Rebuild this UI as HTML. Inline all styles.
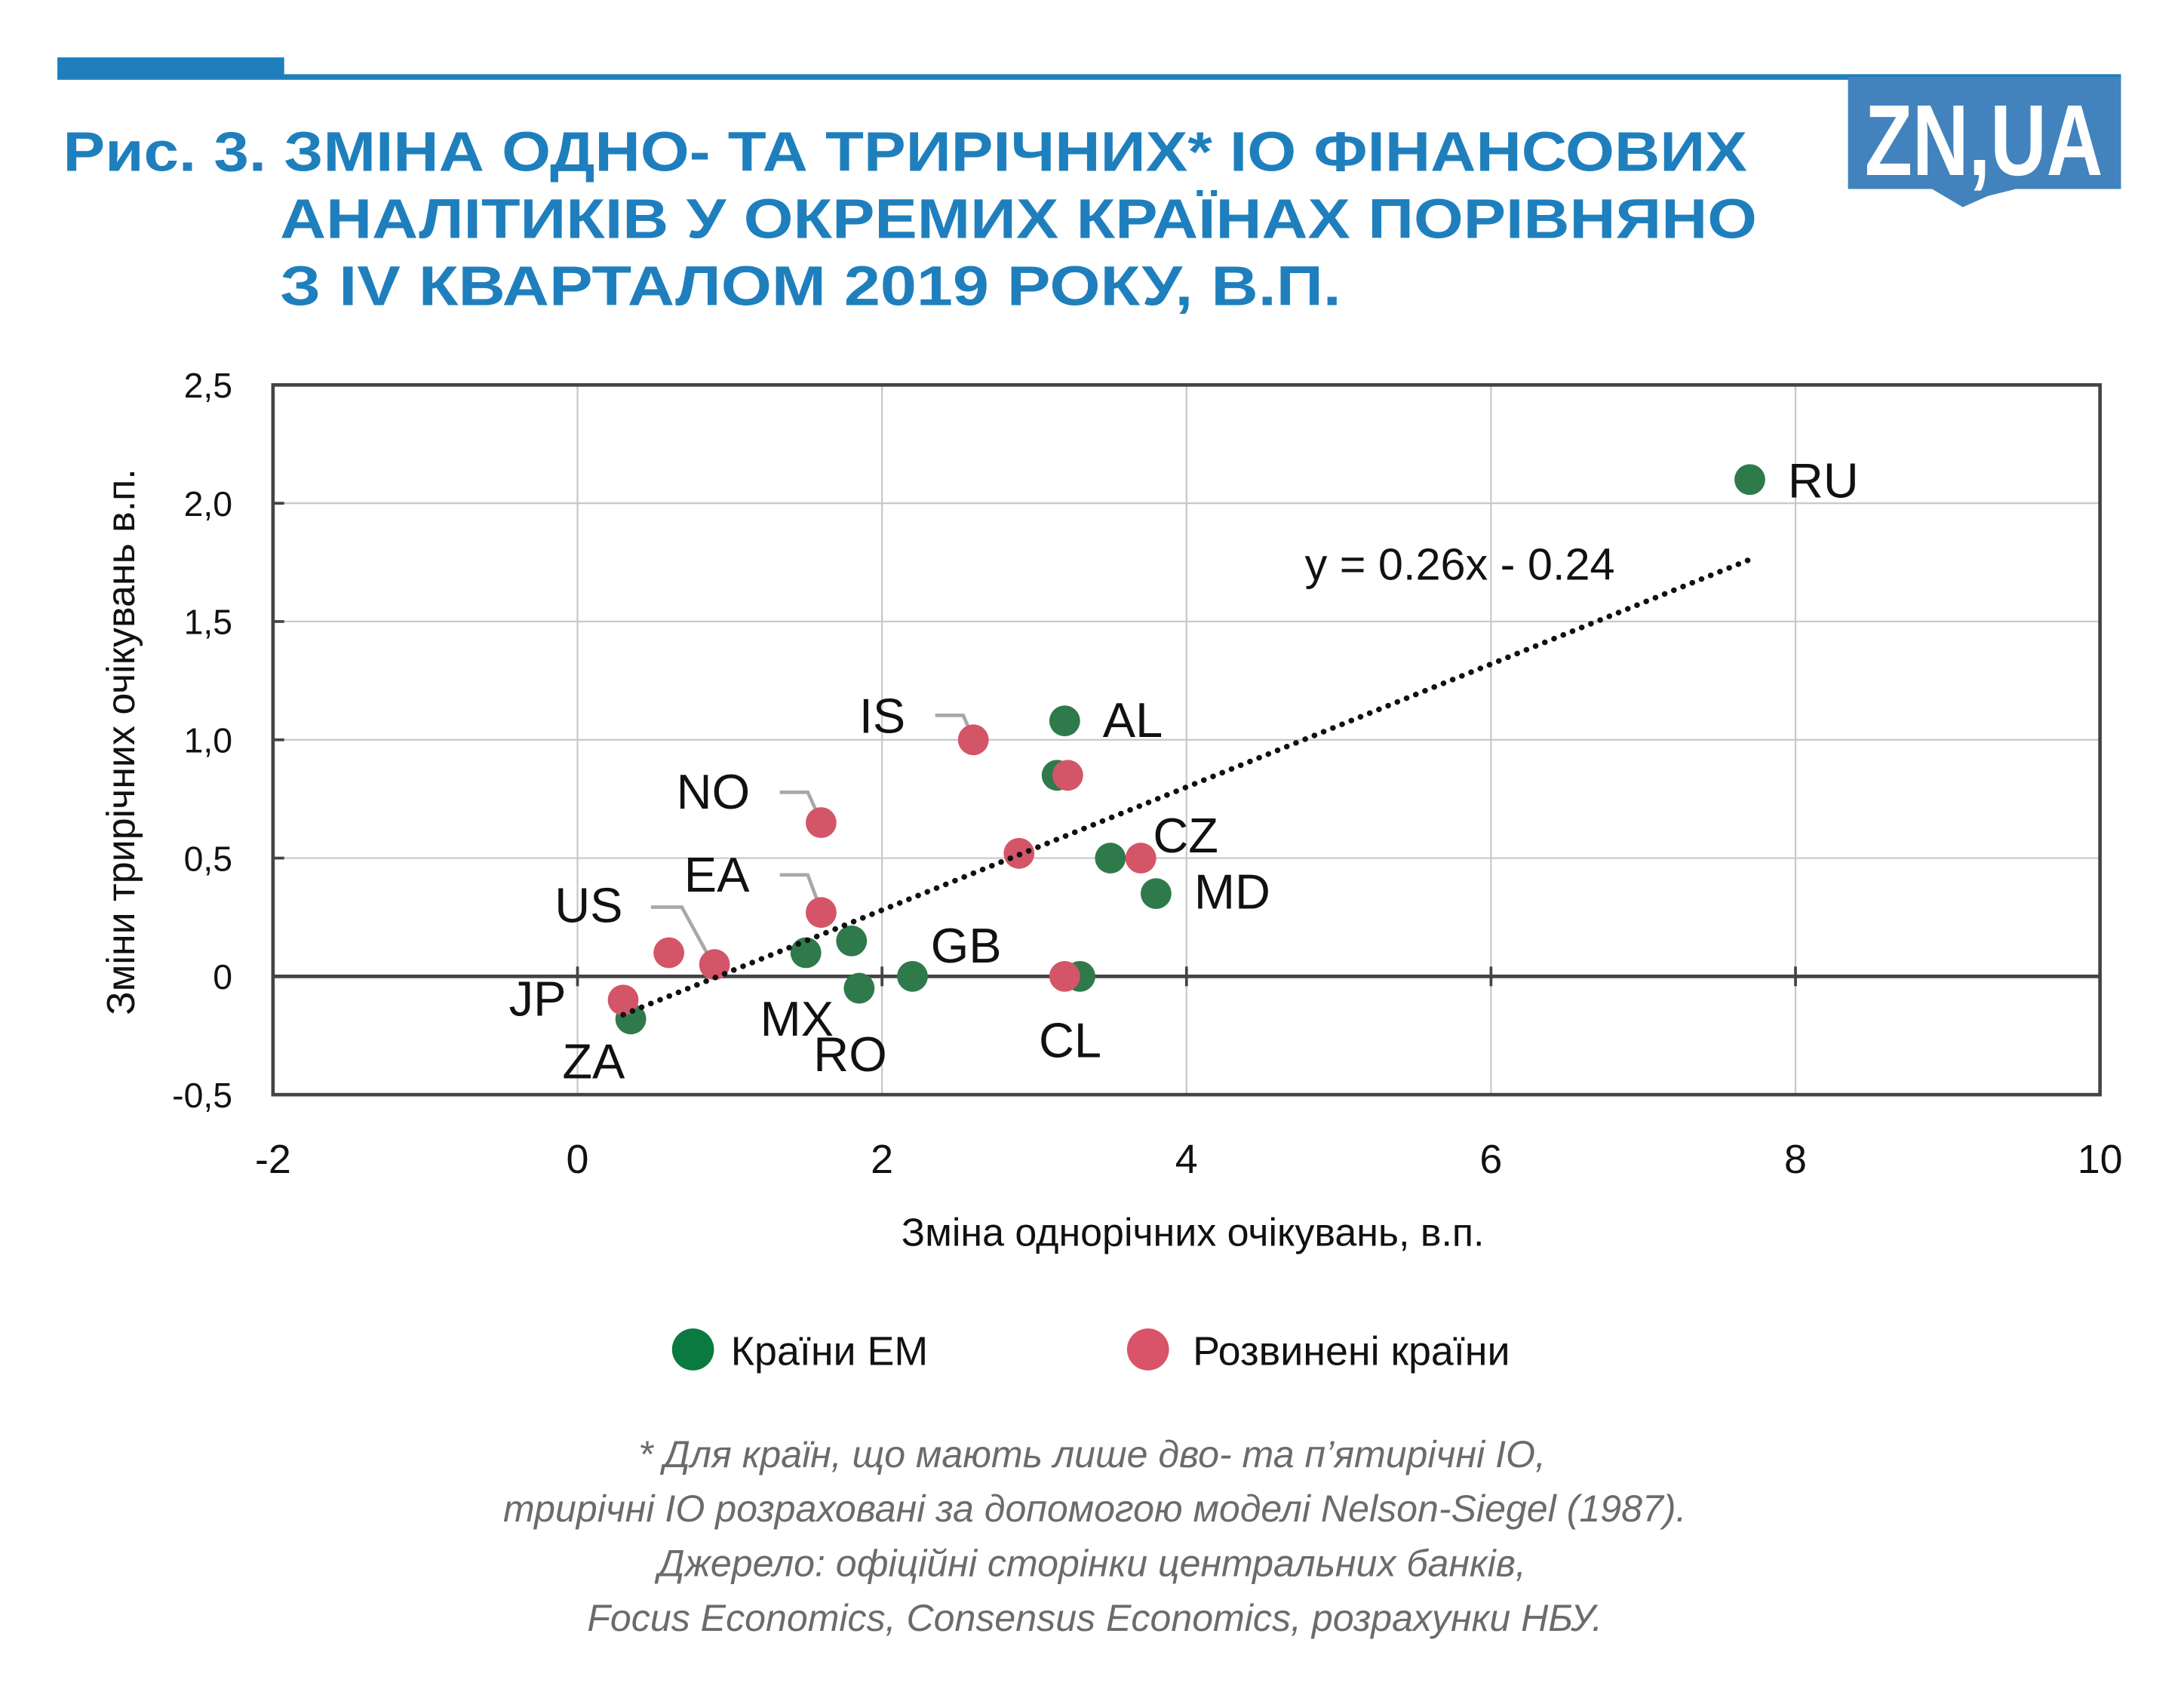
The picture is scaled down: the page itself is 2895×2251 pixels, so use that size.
<!DOCTYPE html>
<html><head><meta charset="utf-8"><style>
html,body{margin:0;padding:0;background:#fff;}
svg{display:block;}
</style></head><body>
<svg id="chart" width="2895" height="2251" viewBox="0 0 1560 1213" preserveAspectRatio="none" xmlns="http://www.w3.org/2000/svg" font-family="'Liberation Sans', 'DejaVu Sans', sans-serif">
  <g>
    <rect x="41" y="41" width="162" height="15" fill="#1f7fbd"/>
    <rect x="41" y="53" width="1474" height="4" fill="#1f7fbd"/>
    <g>
      <rect x="1320" y="55" width="195" height="80" fill="#4283bd"/>
      <path d="M1380 135 L1402 148 L1420 140 L1440 135 Z" fill="#4283bd"/>
      <text x="1417" y="125" text-anchor="middle" font-size="72" font-weight="bold" fill="#fff" textLength="170" lengthAdjust="spacingAndGlyphs">ZN,UA</text>
    </g>
    <g fill="#1f7fbd" font-weight="bold" font-size="40">
      <text x="45" y="122" textLength="1203" lengthAdjust="spacingAndGlyphs">Рис. 3. ЗМІНА ОДНО- ТА ТРИРІЧНИХ* IO ФІНАНСОВИХ</text>
      <text x="200" y="170" textLength="1055" lengthAdjust="spacingAndGlyphs">АНАЛІТИКІВ У ОКРЕМИХ КРАЇНАХ ПОРІВНЯНО</text>
      <text x="200" y="218" textLength="758" lengthAdjust="spacingAndGlyphs">З IV КВАРТАЛОМ 2019 РОКУ, В.П.</text>
    </g>
  </g>
  <g id="plot"></g>
  <text transform="translate(96,530) rotate(-90)" text-anchor="middle" font-size="28" fill="#111">Зміни трирічних очікувань в.п.</text>
  <text x="852" y="890" text-anchor="middle" font-size="28" fill="#111">Зміна однорічних очікувань, в.п.</text>
  <g font-size="29" fill="#111">
    <g>
      <circle cx="495" cy="964" r="15" fill="#0b7a40"/>
      <text x="522" y="975">Країни ЕМ</text>
    </g>
    <g>
      <circle cx="820" cy="964" r="15" fill="#d95468"/>
      <text x="852" y="975">Розвинені країни</text>
    </g>
  </g>
  <g font-size="27" font-style="italic" fill="#6b6b6b" text-anchor="middle">
    <text x="780" y="1048">* Для країн, що мають лише дво- та п’ятирічні IO,</text>
    <text x="782" y="1087">трирічні IO розраховані за допомогою моделі Nelson-Siegel (1987).</text>
    <text x="780" y="1126">Джерело: офіційні сторінки центральних банків,</text>
    <text x="782" y="1165">Focus Economics, Consensus Economics, розрахунки НБУ.</text>
  </g>
</svg>
<script>
const xTicks = [-2, 0, 2, 4, 6, 8, 10];
const xTickLabels = ["-2", "0", "2", "4", "6", "8", "10"];
const yTicks = [-0.5, 0, 0.5, 1.0, 1.5, 2.0, 2.5];
const yTickLabels = ["-0,5", "0", "0,5", "1,0", "1,5", "2,0", "2,5"];
const emX = [7.7, 3.2, 3.15, 3.5, 3.8, 1.5, 1.8, 2.2, 1.85, 3.3, 0.35];
const emY = [2.1, 1.08, 0.85, 0.5, 0.35, 0.1, 0.15, 0.0, -0.05, 0.0, -0.18];
const dmX = [2.6, 1.6, 3.22, 2.9, 3.7, 1.6, 0.6, 0.9, 3.2, 0.3];
const dmY = [1.0, 0.65, 0.85, 0.52, 0.5, 0.27, 0.1, 0.05, 0.0, -0.1];
const labelText = ["RU", "AL", "CZ", "MD", "GB", "CL", "RO", "MX", "ZA", "JP", "US", "EA", "NO", "IS"];
const labelX = [7.95, 3.45, 3.78, 4.05, 2.32, 3.03, 1.55, 1.2, -0.1, -0.45, -0.15, 0.7, 0.65, 1.85];
const labelY = [2.095, 1.083, 0.595, 0.357, 0.13, -0.27, -0.33, -0.18, -0.36, -0.095, 0.30, 0.43, 0.78, 1.10];
const trendSlope = 0.26, trendIntercept = -0.24, trendX0 = 0.3, trendX1 = 7.7;

const L = 195, R = 1500, T = 275, B = 782;
const xS = v => L + (v - (-2)) / 12 * (R - L);
const yS = v => B - (v - (-0.5)) / 3 * (B - T);
const NS = "http://www.w3.org/2000/svg";
const plot = document.getElementById('plot');
function mk(tag, attrs, parent) {
  const e = document.createElementNS(NS, tag);
  for (const k in attrs) e.setAttribute(k, attrs[k]);
  (parent || plot).appendChild(e);
  return e;
}
xTicks.forEach((t, i) => {
  if (t > -2 && t < 10) {
    const g = mk('line', {x1: xS(t), x2: xS(t), y1: T, y2: B, stroke: '#c8c8c8', 'stroke-width': 1.2});
    
    
  }
  const lb = mk('text', {x: xS(t), y: 838, 'text-anchor': 'middle', 'font-size': 29, fill: '#111'});
  lb.textContent = xTickLabels[i];
  
  
  const tk = mk('line', {x1: xS(t), x2: xS(t), y1: yS(0) - 7, y2: yS(0) + 7, stroke: '#444', 'stroke-width': 2});
  
  
});
yTicks.forEach((t, i) => {
  if (t > -0.5 && t < 2.5 && t !== 0) {
    const g = mk('line', {x1: L, x2: R, y1: yS(t), y2: yS(t), stroke: '#c8c8c8', 'stroke-width': 1.2});
    
    
  }
  const lb = mk('text', {x: 166, y: yS(t) + 9, 'text-anchor': 'end', 'font-size': 25, fill: '#111'});
  lb.textContent = yTickLabels[i];
  
  
  const tk = mk('line', {x1: L, x2: L + 8, y1: yS(t), y2: yS(t), stroke: '#444', 'stroke-width': 2});
  
  
});
const zl = mk('line', {x1: L, x2: R, y1: yS(0), y2: yS(0), stroke: '#444', 'stroke-width': 2.5});


const fr = mk('rect', {x: L, y: T, width: R - L, height: B - T, fill: 'none', stroke: '#444', 'stroke-width': 2.5});


const leaders = [[668,511,688,511,695,527],[557,566,577,566,587,588],[557,625,577,625,587,652],[465,648,487,648,510,690]];
leaders.forEach(p => {
  const l = mk('polyline', {points: `${p[0]},${p[1]} ${p[2]},${p[3]} ${p[4]},${p[5]}`, fill: 'none', stroke: '#a8a8a8', 'stroke-width': 2.5});
  
  
});
emX.forEach((x, i) => {
  const c = mk('circle', {cx: xS(x), cy: yS(emY[i]), r: 11, fill: '#2f7a4b'});
  
  
});
dmX.forEach((x, i) => {
  const c = mk('circle', {cx: xS(x), cy: yS(dmY[i]), r: 11, fill: '#d45568'});
  
  
});
const tl = mk('line', {x1: xS(trendX0), y1: yS(trendSlope * trendX0 + trendIntercept), x2: xS(trendX1), y2: yS(trendSlope * trendX1 + trendIntercept), stroke: '#111', 'stroke-width': 4, 'stroke-dasharray': '0.1 7', 'stroke-linecap': 'round'});


const te = mk('text', {x: 932, y: 414, 'font-size': 32, fill: '#111'});
te.textContent = 'y = 0.26x - 0.24';


labelText.forEach((s, i) => {
  const t = mk('text', {x: xS(labelX[i]), y: yS(labelY[i]) + 12, 'font-size': 35, fill: '#111'});
  t.textContent = s;
  
  
});
</script>
</body></html>
